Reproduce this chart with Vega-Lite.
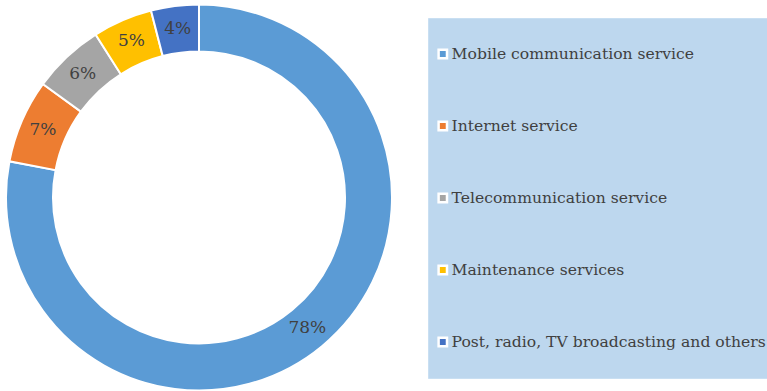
{
  "$schema": "https://vega.github.io/schema/vega-lite/v6.json",
  "width": 398,
  "height": 391,
  "padding": 0,
  "autosize": {"type": "pad"},
  "background": "white",
  "config": {"view": {"stroke": null}},
  "data": {
    "values": [
      {"service": "Mobile communication service", "value": 78, "label": "78%", "order": 1},
      {"service": "Internet service", "value": 7, "label": "7%", "order": 2},
      {"service": "Telecommunication service", "value": 6, "label": "6%", "order": 3},
      {"service": "Maintenance services", "value": 5, "label": "5%", "order": 4},
      {"service": "Post, radio, TV broadcasting and others", "value": 4, "label": "4%", "order": 5}
    ]
  },
  "encoding": {
    "theta": {"field": "value", "type": "quantitative", "stack": true},
    "order": {"field": "order", "type": "quantitative"}
  },
  "layer": [
    {
      "mark": {"type": "arc", "outerRadius": 193, "innerRadius": 146, "stroke": "white", "strokeWidth": 2},
      "encoding": {
        "color": {
          "field": "service",
          "type": "nominal",
          "sort": null,
          "scale": {
            "domain": ["Mobile communication service", "Internet service", "Telecommunication service", "Maintenance services", "Post, radio, TV broadcasting and others"],
            "range": ["#5B9BD5", "#ED7D31", "#A5A5A5", "#FFC000", "#4472C4"]
          },
          "legend": {
            "orient": "none",
            "legendX": 428,
            "legendY": 16,
            "title": null,
            "fillColor": "#BDD7EE",
            "strokeColor": "#C9DFF2",
            "padding": 6,
            "symbolType": "square",
            "symbolSize": 70,
            "symbolStrokeColor": "white",
            "symbolStrokeWidth": 2.5,
            "symbolOpacity": 1,
            "symbolOffset": 1,
            "labelOffset": 1,
            "labelFont": "DejaVu Serif",
            "labelFontSize": 15.6,
            "labelColor": "#404040",
            "labelLimit": 0,
            "rowPadding": 12,
            "clipHeight": 60
          }
        }
      }
    },
    {
      "mark": {"type": "text", "radius": 170, "font": "DejaVu Serif", "fontSize": 17, "color": "#404040"},
      "encoding": {"text": {"field": "label", "type": "nominal"}}
    }
  ]
}
